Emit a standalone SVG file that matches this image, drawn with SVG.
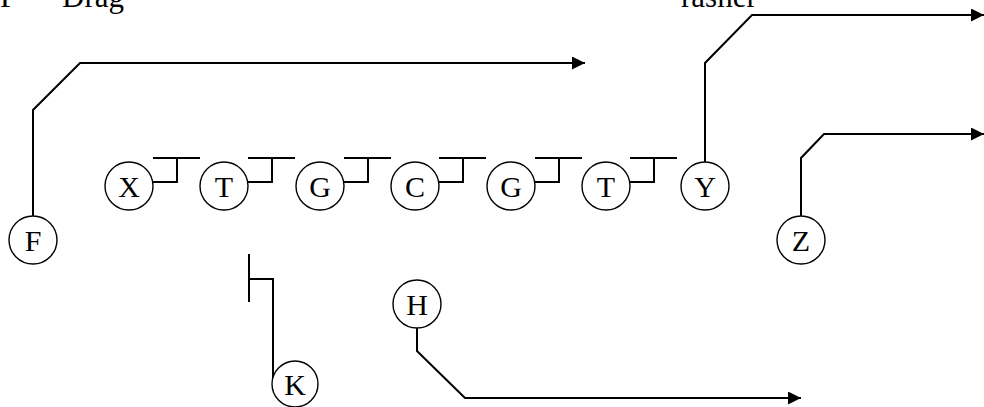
<svg xmlns="http://www.w3.org/2000/svg" width="984" height="407" viewBox="0 0 984 407">
<defs>
<style>
.n circle{fill:#fff;stroke:#000;stroke-width:1.4}
.n text{font-family:"Liberation Serif","Times New Roman",serif;font-size:30px;text-anchor:middle;fill:#000}
.c path{fill:none;stroke:#000;stroke-width:2}
.lbl{font-family:"Liberation Serif","Times New Roman",serif;font-size:31px;fill:#000}
</style>
<marker id="ah" viewBox="0 0 10 10" refX="10" refY="5" markerWidth="15" markerHeight="13" markerUnits="userSpaceOnUse" orient="auto">
<path d="M0,0 L10,5 L0,10 Z" fill="#000"/>
</marker>
</defs>
<rect width="984" height="407" fill="#fff"/>
<text class="lbl" y="7"><tspan x="0">F</tspan><tspan x="36">=</tspan><tspan x="62">Drag</tspan></text>
<text class="lbl" x="681" y="7">rasher</text>
<g class="c" id="connectors">
<path d="M153,182 H177 V158 M153,158 H200"/>
<path d="M248,182 H272 V158 M248,158 H295"/>
<path d="M344,182 H368 V158 M344,158 H391"/>
<path d="M439,182 H463 V158 M439,158 H486"/>
<path d="M535,182 H559 V158 M535,158 H582"/>
<path d="M630,182 H654 V158 M630,158 H677"/>
<path d="M33,216 V110 L80,63 H585" marker-end="url(#ah)"/>
<path d="M705,162 V63 L752,15 H984" marker-end="url(#ah)"/>
<path d="M801,216 V158 L824,134 H984" marker-end="url(#ah)"/>
<path d="M417,328 V351 L465,398 H801" marker-end="url(#ah)"/>
<path d="M249,254 V302 M249,279 H273 V378"/>
</g>
<g class="n" id="F"><circle cx="33" cy="240" r="24"/><text x="33" y="251">F</text></g>
<g class="n" id="X"><circle cx="129" cy="186" r="24"/><text x="129" y="197">X</text></g>
<g class="n" id="T1"><circle cx="224" cy="186" r="24"/><text x="224" y="197">T</text></g>
<g class="n" id="G1"><circle cx="320" cy="186" r="24"/><text x="320" y="197">G</text></g>
<g class="n" id="C"><circle cx="415" cy="186" r="24"/><text x="415" y="197">C</text></g>
<g class="n" id="G2"><circle cx="511" cy="186" r="24"/><text x="511" y="197">G</text></g>
<g class="n" id="T2"><circle cx="606" cy="186" r="24"/><text x="606" y="197">T</text></g>
<g class="n" id="Y"><circle cx="705" cy="186" r="24"/><text x="705" y="197">Y</text></g>
<g class="n" id="Z"><circle cx="801" cy="240" r="24"/><text x="801" y="251">Z</text></g>
<g class="n" id="H"><circle cx="417" cy="304" r="24"/><text x="417" y="315">H</text></g>
<g class="n" id="K"><circle cx="295" cy="384" r="23"/><text x="295" y="395">K</text></g>
</svg>
